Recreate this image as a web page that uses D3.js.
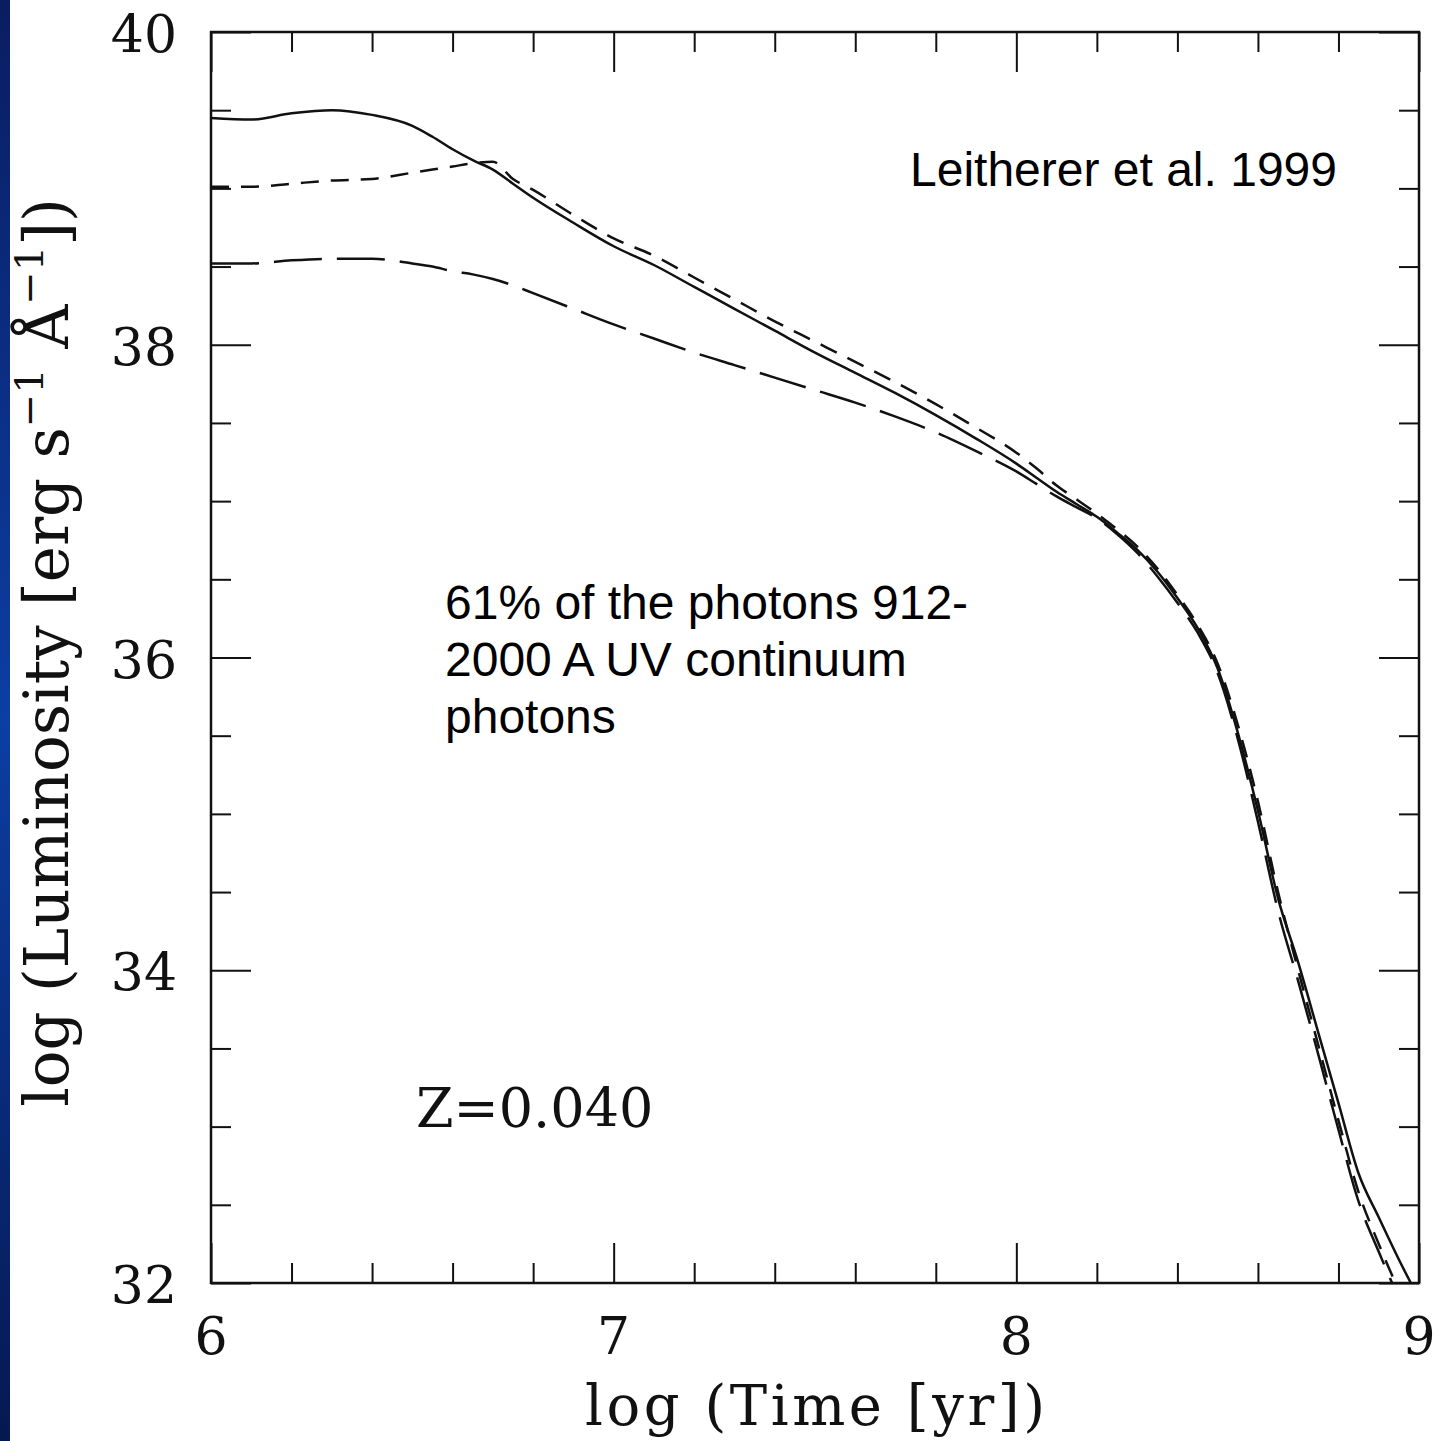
<!DOCTYPE html>
<html lang="en">
<head>
  <meta charset="utf-8"/>
  <title>Luminosity vs time</title>
  <script src="https://d3js.org/d3.v7.min.js"></script>
  <style>
    body { margin: 0; background: #fff; }
    .serif { font-family: "DejaVu Serif", serif; fill: #111; }
    .sans { font-family: "Liberation Sans", Arial, sans-serif; fill: #000; }
  </style>
</head>
<body>
<svg id="chart" width="1441" height="1441"></svg>
<script>
// log time grid [yr]
const logTime = [6.0, 6.1, 6.2, 6.3, 6.4, 6.5, 6.55, 6.6, 6.65, 6.7, 6.75, 6.8, 6.9,
  7.0, 7.1, 7.2, 7.3, 7.4, 7.5, 7.6, 7.7, 7.8, 7.9, 8.0, 8.05, 8.1, 8.15, 8.2, 8.25,
  8.3, 8.35, 8.4, 8.45, 8.5, 8.55, 8.6, 8.65, 8.7, 8.75, 8.8, 8.85, 8.9, 8.95, 9.0];

// log luminosity, three curves
const solidLum = [39.45, 39.44, 39.48, 39.50, 39.47, 39.40, 39.33, 39.25, 39.18, 39.12, 39.03, 38.94, 38.78,
  38.63, 38.51, 38.37, 38.23, 38.09, 37.95, 37.82, 37.69, 37.55, 37.40, 37.24, 37.15, 37.06, 36.98, 36.90, 36.80,
  36.69, 36.55, 36.38, 36.19, 35.93, 35.52, 35.02, 34.46, 34.05, 33.60, 33.15, 32.70, 32.42, 32.15, 31.90];
const shortDashLum = [39.01, 39.01, 39.03, 39.05, 39.06, 39.10, 39.12, 39.14, 39.16, 39.17, 39.06, 38.99, 38.83,
  38.68, 38.57, 38.43, 38.29, 38.15, 38.02, 37.89, 37.76, 37.62, 37.47, 37.31, 37.21, 37.10, 37.01, 36.92, 36.82,
  36.71, 36.57, 36.40, 36.21, 35.96, 35.57, 35.08, 34.50, 34.00, 33.52, 33.04, 32.58, 32.25, 31.95, null];
const longDashLum = [38.52, 38.52, 38.54, 38.55, 38.55, 38.52, 38.50, 38.47, 38.45, 38.42, 38.38, 38.33, 38.23,
  38.13, 38.04, 37.95, 37.87, 37.79, 37.71, 37.63, 37.54, 37.44, 37.32, 37.19, 37.11, 37.03, 36.96, 36.89, 36.79,
  36.67, 36.52, 36.35, 36.16, 35.90, 35.48, 34.95, 34.38, 33.93, 33.46, 32.98, 32.52, 32.20, 31.90, null];

const xMajor = [6, 7, 8, 9];
const xMinor = [6.2, 6.4, 6.6, 6.8, 7.2, 7.4, 7.6, 7.8, 8.2, 8.4, 8.6, 8.8];
const yMajor = [32, 34, 36, 38, 40];
const yMinor = [32.5, 33, 33.5, 34.5, 35, 35.5, 36.5, 37, 37.5, 38.5, 39, 39.5];

const svg = d3.select("#chart");
const pL = 211, pR = 1419, pT = 32, pB = 1283;

const x = d3.scaleLinear().domain([6, 9]).range([pL, pR]);
const y = d3.scaleLinear().domain([32, 40]).range([pB, pT]);

// blue strip at the left edge
const defs = svg.append("defs");
const grad = defs.append("linearGradient").attr("id", "strip")
  .attr("x1", 0).attr("y1", 0).attr("x2", 0).attr("y2", 1);
grad.append("stop").attr("offset", "0%").attr("stop-color", "#0a1d60");
grad.append("stop").attr("offset", "50%").attr("stop-color", "#0c3ea4");
grad.append("stop").attr("offset", "100%").attr("stop-color", "#061850");
svg.append("rect").attr("x", 0).attr("y", 0).attr("width", 10).attr("height", 1441)
  .attr("fill", "url(#strip)");

defs.append("clipPath").attr("id", "plotclip").append("rect")
  .attr("x", pL).attr("y", pT).attr("width", pR - pL).attr("height", pB - pT);

// ticks, pointing inward on all four sides
function ticks(axis, vals, size, g) {
  g.call(axis.tickValues(vals).tickSizeInner(-size).tickSizeOuter(0).tickFormat(""));
  g.select(".domain").remove();
  g.selectAll(".tick line").attr("stroke", "#111").attr("stroke-width", 2);
}
const gb = svg.append("g").attr("transform", `translate(0,${pB})`);
ticks(d3.axisBottom(x), xMinor, 20, gb.append("g"));
ticks(d3.axisBottom(x), xMajor, 40, gb.append("g"));
const gt = svg.append("g").attr("transform", `translate(0,${pT})`);
ticks(d3.axisTop(x), xMinor, 20, gt.append("g"));
ticks(d3.axisTop(x), xMajor, 40, gt.append("g"));
const gl = svg.append("g").attr("transform", `translate(${pL},0)`);
ticks(d3.axisLeft(y), yMinor, 20, gl.append("g"));
ticks(d3.axisLeft(y), yMajor, 40, gl.append("g"));
const gr = svg.append("g").attr("transform", `translate(${pR},0)`);
ticks(d3.axisRight(y), yMinor, 20, gr.append("g"));
ticks(d3.axisRight(y), yMajor, 40, gr.append("g"));

// tick labels
svg.append("g").selectAll("text").data(xMajor).join("text")
  .attr("class", "serif").attr("x", d => x(d)).attr("y", 1354)
  .attr("text-anchor", "middle").attr("font-size", 52).text(d => d);
svg.append("g").selectAll("text").data(yMajor).join("text")
  .attr("class", "serif").attr("x", 177).attr("y", d => y(d) + 20)
  .attr("text-anchor", "end").attr("font-size", 52).text(d => d);

// frame
svg.append("rect").attr("x", pL).attr("y", pT)
  .attr("width", pR - pL).attr("height", pB - pT)
  .attr("fill", "none").attr("stroke", "#111").attr("stroke-width", 2.5);

// curves
const line = d3.line()
  .defined(d => d[1] != null)
  .x(d => x(d[0])).y(d => y(d[1]))
  .curve(d3.curveMonotoneX);
const series = [
  { vals: solidLum, dash: null },
  { vals: shortDashLum, dash: "18,12" },
  { vals: longDashLum, dash: "48,15" }
];
const gc = svg.append("g").attr("clip-path", "url(#plotclip)");
series.forEach(s => {
  gc.append("path")
    .datum(logTime.map((t, i) => [t, s.vals[i]]))
    .attr("d", line)
    .attr("fill", "none").attr("stroke", "#111").attr("stroke-width", 2.5)
    .attr("stroke-dasharray", s.dash);
});

// axis titles
svg.append("text").attr("class", "serif")
  .attr("x", (pL + pR) / 2).attr("y", 1425)
  .attr("text-anchor", "middle").attr("font-size", 56)
  .attr("textLength", 460).attr("lengthAdjust", "spacing")
  .text("log (Time [yr])");

const yt = svg.append("text").attr("class", "serif")
  .attr("transform", `translate(68,${(pT + pB) / 2 - 5}) rotate(-90)`)
  .attr("text-anchor", "middle").attr("font-size", 61);
yt.append("tspan").text("log (Luminosity [erg s");
yt.append("tspan").attr("font-size", 40).attr("dy", -25).text("\u22121");
yt.append("tspan").attr("dy", 25).text(" \u00c5");
yt.append("tspan").attr("font-size", 40).attr("dy", -25).text("\u22121");
yt.append("tspan").attr("dy", 25).text("])");

// annotations
svg.append("text").attr("class", "serif").attr("x", 416).attr("y", 1127)
  .attr("font-size", 54).text("Z=0.040");

svg.append("text").attr("class", "sans").attr("x", 910).attr("y", 186)
  .attr("font-size", 48).text("Leitherer et al. 1999");

const note = ["61% of the photons 912-", "2000 A UV continuum", "photons"];
svg.append("g").selectAll("text").data(note).join("text")
  .attr("class", "sans").attr("x", 445).attr("y", (d, i) => 619 + i * 57)
  .attr("font-size", 48).text(d => d);
</script>
</body>
</html>
